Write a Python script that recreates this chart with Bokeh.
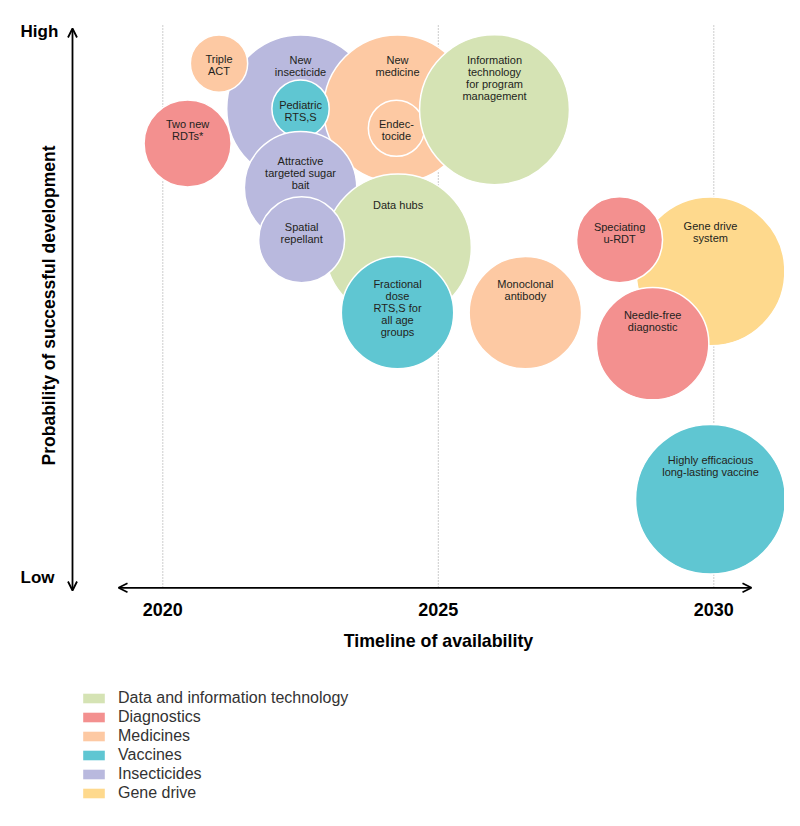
from bokeh.plotting import figure
from bokeh.models import ColumnDataSource, Range1d, Arrow, OpenHead, Label, Legend, LegendItem
from bokeh.core.properties import value
from bokeh.embed import file_html
from bokeh.resources import INLINE
import math

# ---------------- data ----------------
labels = [
    "New\ninsecticide", "New\nmedicine", "Pediatric\nRTS,S", "Endec-\ntocide",
    "Information\ntechnology\nfor program\nmanagement",
    "Attractive\ntargeted sugar\nbait", "Data hubs", "Spatial\nrepellant",
    "Fractional\ndose\nRTS,S for\nall age\ngroups",
    "Triple\nACT", "Two new\nRDTs*", "Monoclonal\nantibody",
    "Gene drive\nsystem", "Speciating\nu-RDT", "Needle-free\ndiagnostic",
    "Highly efficacious\nlong-lasting vaccine",
]
categories = [
    "Insecticides", "Medicines", "Vaccines", "Medicines",
    "Data and information technology",
    "Insecticides", "Data and information technology", "Insecticides",
    "Vaccines",
    "Medicines", "Diagnostics", "Medicines",
    "Gene drive", "Diagnostics", "Diagnostics",
    "Vaccines",
]
year = [2022.50, 2024.26, 2022.50, 2024.24, 2026.02,
        2022.50, 2024.27, 2022.52, 2024.26,
        2021.02, 2020.45, 2026.58,
        2029.94, 2028.29, 2028.89, 2029.94]
probability = [86.0, 86.0, 86.0, 82.4, 85.8,
               71.5, 60.5, 61.9, 48.5,
               94.3, 79.6, 48.5,
               56.1, 61.9, 42.8, 14.2]
radius_years = [1.34, 1.34, 0.52, 0.51, 1.36,
                1.02, 1.33, 0.78, 1.02,
                0.52, 0.79, 1.02,
                1.35, 0.78, 1.02, 1.36]

category_names = ["Data and information technology", "Diagnostics", "Medicines",
                  "Vaccines", "Insecticides", "Gene drive"]
category_colors = ["#D5E3B4", "#F3908F", "#FDC9A3", "#5FC6D2", "#B9B9DE", "#FED98D"]

year_ticks = [2020, 2025, 2030]
year_tick_labels = ["2020", "2025", "2030"]
prob_ticks = [100, 0]
prob_tick_labels = ["High", "Low"]

# ---------------- layout (screen geometry) ----------------
W, H = 784, 810
PX_YEAR = 55.1     # pixels per year
PX_PROB = 5.44     # pixels per probability point
x_start = 2020 - 162.3 / PX_YEAR
x_end = x_start + W / PX_YEAR
y_end = 100 + 32 / PX_PROB
y_start = y_end - H / PX_PROB

def px_to_year(px):   # canvas x -> year
    return 2020 + (px - 162.3) / PX_YEAR

def py_to_prob(py):   # canvas y -> probability
    return 100 - (py - 32) / PX_PROB

# first text line centre measured from the top of each circle (px)
label_first_line = [25.3, 25.3, 25.5, 24, 25.3, 30, 31, 30.7, 27.3,
                    24.8, 24.5, 27.3, 29.7, 30.7, 28, 36]
FONT_PX = 11
LINE_H = 1.0

color_map = dict(zip(category_names, category_colors))
text_y = [p + (r * PX_YEAR - (off - 6.2)) / PX_PROB
          for p, r, off in zip(probability, radius_years, label_first_line)]

src = ColumnDataSource(dict(
    x=year, y=probability, r=radius_years, label=labels, cat=categories,
    color=[color_map[c] for c in categories], ty=text_y,
))

p = figure(width=W, height=H, x_range=Range1d(x_start, x_end),
           y_range=Range1d(y_start, y_end), output_backend="svg",
           toolbar_location=None, x_axis_location=None, y_axis_location=None,
           min_border=0)
p.grid.visible = False
p.outline_line_color = None
p.background_fill_color = "white"

# dotted vertical grid lines at ticks
p.segment(x0=year_ticks, x1=year_ticks,
          y0=[py_to_prob(25)] * len(year_ticks), y1=[py_to_prob(587)] * len(year_ticks),
          line_color="#9a9a9a", line_width=1, line_dash="1 2")

# bubbles
p.circle(x="x", y="y", radius="r", source=src, fill_color="color",
         line_color="white", line_width=1.5)

# bubble labels
p.text(x="x", y="ty", text="label", source=src, text_font=value("Liberation Sans"),
       text_font_size=f"{FONT_PX}px", text_align="center", text_baseline="top",
       text_line_height=LINE_H, text_color="#231f20")

# axes arrows
def head():
    return OpenHead(size=9, line_width=1.8, line_color="black")

x_arrow = Arrow(x_start=px_to_year(118), x_end=px_to_year(751),
                y_start=py_to_prob(587.3), y_end=py_to_prob(587.3),
                start=head(), end=head(), line_width=1.8, line_color="black")
y_arrow = Arrow(x_start=px_to_year(72), x_end=px_to_year(72),
                y_start=py_to_prob(590), y_end=py_to_prob(28),
                start=head(), end=head(), line_width=1.8, line_color="black")
p.add_layout(x_arrow)
p.add_layout(y_arrow)

# tick labels
p.text(x=year_ticks, y=[py_to_prob(609)] * len(year_ticks), text=year_tick_labels,
       text_font=value("Liberation Sans"), text_font_style="bold",
       text_font_size="18px", text_align="center", text_baseline="middle",
       text_color="black")
p.text(x=[px_to_year(20)] * len(prob_ticks), y=[100.2, -0.2], text=prob_tick_labels,
       text_font=value("Liberation Sans"), text_font_style="bold",
       text_font_size="17px", text_align="left", text_baseline="middle",
       text_color="black")

# axis titles
p.add_layout(Label(x=px_to_year(438), y=py_to_prob(640), text="Timeline of availability",
                   text_font="Liberation Sans", text_font_style="bold",
                   text_font_size="17.8px", text_align="center", text_baseline="middle",
                   text_color="black"))
p.add_layout(Label(x=px_to_year(48), y=py_to_prob(305),
                   text="Probability of successful development", angle=math.pi / 2,
                   text_font="Liberation Sans", text_font_style="bold",
                   text_font_size="17.5px", text_align="center", text_baseline="middle",
                   text_color="black"))

# legend (rectangular swatches)
nan = float("nan")
items = []
for name, col in zip(category_names, category_colors):
    r = p.quad(left=[nan], right=[nan], top=[nan], bottom=[nan],
               fill_color=col, line_color=None)
    items.append(LegendItem(label=name, renderers=[r]))
legend = Legend(items=items, location=(80, 7.5), orientation="vertical",
                glyph_width=27, glyph_height=12, label_standoff=11, spacing=0,
                padding=0, margin=0, border_line_alpha=0, background_fill_alpha=0,
                label_text_font="Liberation Sans", label_text_font_size="16px",
                label_height=19, label_text_color="#333333",
                label_text_baseline="middle")
p.add_layout(legend)

open("out.html", "w").write(file_html(p, INLINE))
